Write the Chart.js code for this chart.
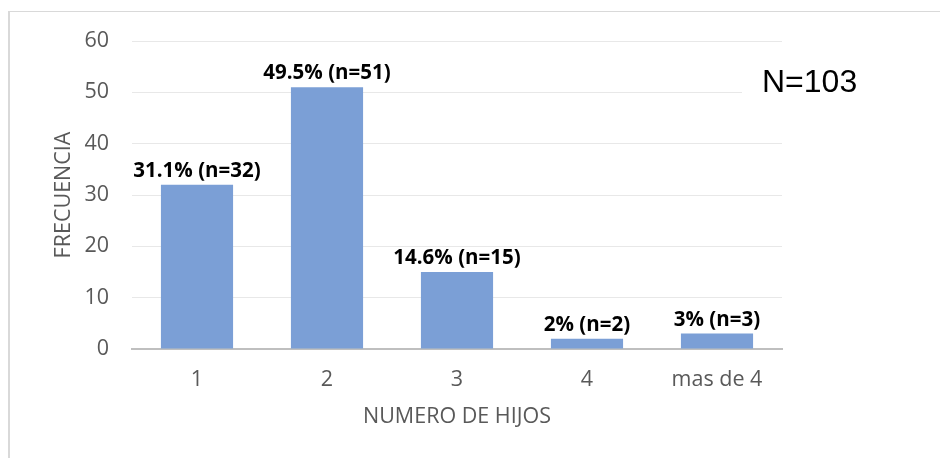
<!DOCTYPE html>
<html>
<head>
<meta charset="utf-8">
<script src="https://cdn.jsdelivr.net/npm/chart.js@4/dist/chart.umd.min.js"></script>
<style>
html,body{margin:0;padding:0;background:#fff;}
#wrap{position:relative;width:940px;height:458px;}
</style>
</head>
<body>
<div id="wrap"><canvas id="c" width="940" height="458"></canvas></div>
<script>
const categories = ['1', '2', '3', '4', 'mas de 4'];
const frequencies = [32, 51, 15, 2, 3];
const percentLabels = ['31.1%', '49.5%', '14.6%', '2%', '3%'];
const yTicks = [0, 10, 20, 30, 40, 50, 60];
const xTitle = 'NUMERO DE HIJOS';
const yTitle = 'FRECUENCIA';

const totalN = frequencies.reduce((a, b) => a + b, 0);
const tickFont = {family: '"Open Sans"', size: 21.5};
const grey = '#595959';

const framePlugin = {
  id: 'frame',
  beforeDraw(chart) {
    const ctx = chart.ctx;
    ctx.save();
    ctx.fillStyle = '#fff';
    ctx.fillRect(0, 0, chart.width, chart.height);
    ctx.fillStyle = '#d9d9d9';
    ctx.fillRect(8, 11, chart.width - 8, 1);
    ctx.fillRect(8, 11, 2, chart.height - 11);
    ctx.restore();
  }
};

const labelPlugin = {
  id: 'barLabels',
  afterDatasetsDraw(chart) {
    const ctx = chart.ctx;
    const meta = chart.getDatasetMeta(0);
    ctx.save();
    ctx.font = 'bold 20.5px "Open Sans"';
    ctx.fillStyle = '#000';
    ctx.textAlign = 'center';
    ctx.textBaseline = 'alphabetic';
    meta.data.forEach((bar, i) => {
      const txt = percentLabels[i] + ' (n=' + frequencies[i] + ')';
      ctx.fillText(txt, bar.x, bar.y - 8);
    });
    // N annotation box
    const ys = chart.scales.y;
    const yMid = ys.getPixelForValue(50);
    ctx.fillStyle = '#fff';
    ctx.fillRect(742, yMid - 30, 198, 56);
    ctx.fillStyle = '#000';
    ctx.textAlign = 'left';
    ctx.font = '32px "Liberation Sans", Arial, sans-serif';
    ctx.fillText('N=' + totalN, 762, yMid);
    ctx.restore();
  }
};

new Chart(document.getElementById('c'), {
  type: 'bar',
  data: {
    labels: categories,
    datasets: [{
      data: frequencies,
      backgroundColor: '#7b9fd6',
      borderWidth: 0,
      categoryPercentage: 1,
      barPercentage: 0.555
    }]
  },
  options: {
    responsive: false,
    animation: false,
    events: [],
    layout: {padding: {top: 41, right: 158, bottom: 0, left: 0}},
    plugins: {legend: {display: false}, tooltip: {enabled: false}},
    scales: {
      x: {
        afterFit(scale) { scale.height = 109; },
        grid: {display: false, drawTicks: false},
        border: {display: true, color: '#bfbfbf', width: 2},
        ticks: {color: grey, font: tickFont, padding: 18},
        title: {display: true, text: xTitle, color: grey, font: tickFont, padding: {top: 0, bottom: 28}}
      },
      y: {
        min: 0,
        max: 60,
        afterFit(scale) { scale.width = 132; },
        afterBuildTicks(scale) { scale.ticks = yTicks.map(v => ({value: v})); },
        grid: {color: '#e8e8e8', lineWidth: 1, drawTicks: false},
        border: {display: false},
        ticks: {color: grey, font: tickFont, padding: 23},
        title: {display: true, text: yTitle, color: grey, font: tickFont, padding: {top: 51, bottom: 0}}
      }
    }
  },
  plugins: [framePlugin, labelPlugin]
});
</script>
</body>
</html>
